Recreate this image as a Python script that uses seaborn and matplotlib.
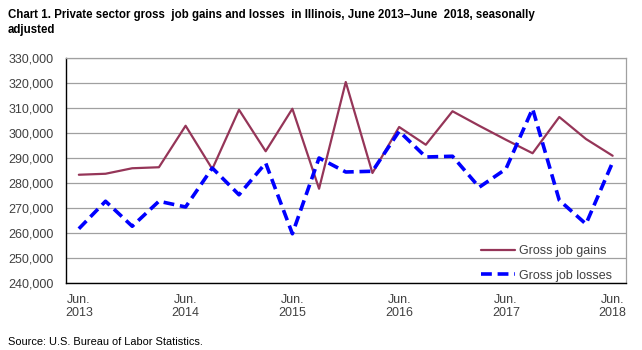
import matplotlib

matplotlib.use("Agg")

import matplotlib.pyplot as plt
import numpy as np
import pandas as pd
import seaborn as sns
from matplotlib.ticker import FuncFormatter, FixedLocator


# quarterly values, June 2013 .. June 2018
quarters = [
    "Jun. 2013", "Sep. 2013", "Dec. 2013", "Mar. 2014",
    "Jun. 2014", "Sep. 2014", "Dec. 2014", "Mar. 2015",
    "Jun. 2015", "Sep. 2015", "Dec. 2015", "Mar. 2016",
    "Jun. 2016", "Sep. 2016", "Dec. 2016", "Mar. 2017",
    "Jun. 2017", "Sep. 2017", "Dec. 2017", "Mar. 2018",
    "Jun. 2018",
]
gains = [
    283300, 283700, 285900, 286300, 302900, 285600, 309300, 292700,
    309700, 277700, 320400, 284000, 302400, 295300, 308700, 302900,
    297300, 291900, 306400, 297600, 290900,
]
losses = [
    261700, 272700, 262700, 272700, 270400, 286000, 275300, 288000,
    259700, 290000, 284400, 284700, 300700, 290400, 290700, 278300,
    285600, 309700, 273100, 263600, 288300,
]
tick_labels = ["Jun.\n2013", "Jun.\n2014", "Jun.\n2015", "Jun.\n2016", "Jun.\n2017", "Jun.\n2018"]

GAIN_COLOR = "#953558"
LOSS_COLOR = "#0000FF"
TEXT_COLOR = "#404040"


def main():
    sns.set_style("white")
    plt.rcParams["font.family"] = ["Liberation Sans", "DejaVu Sans"]

    df = pd.DataFrame({"pos": np.arange(len(quarters)), "quarter": quarters,
                       "gains": gains, "losses": losses})

    fig = plt.figure(figsize=(6.42, 3.5), dpi=100)
    ax = fig.add_axes([65.5 / 642, 1 - 283 / 350, (626 - 65.5) / 642, (283 - 58) / 350])

    sns.lineplot(data=df, x="pos", y="gains", ax=ax, color=GAIN_COLOR, lw=1.6,
                 label="Gross job gains")
    sns.lineplot(data=df, x="pos", y="losses", ax=ax, color=LOSS_COLOR, lw=2.6,
                 dashes=False, label="Gross job losses")
    ax.lines[1].set_dashes([3, 1.6])

    ax.set_xlim(-0.5, len(quarters) - 0.5)
    ax.set_ylim(240000, 330000)
    ax.set_yticks(np.arange(240000, 330001, 10000))
    ax.yaxis.set_major_formatter(FuncFormatter(lambda v, p: f"{int(v):,}"))
    ax.grid(axis="y", color="#A0A0A0", lw=0.9)
    ax.set_axisbelow(True)

    ax.xaxis.set_major_locator(FixedLocator([0, 4, 8, 12, 16, 20]))
    ax.set_xticklabels(tick_labels)
    ax.xaxis.set_minor_locator(FixedLocator(np.arange(-0.5, len(quarters), 1)))
    ax.tick_params(axis="x", which="major", length=0, pad=8, labelsize=9, labelcolor=TEXT_COLOR)
    ax.tick_params(axis="x", which="minor", length=4, width=0.8, color="black", direction="out")
    ax.tick_params(axis="y", length=0, pad=8.6, labelsize=9, labelcolor=TEXT_COLOR)
    for lbl in ax.get_xticklabels():
        lbl.set_linespacing(1.05)

    ax.set_xlabel("")
    ax.set_ylabel("")
    for side in ["left", "bottom"]:
        ax.spines[side].set_color("black")
        ax.spines[side].set_linewidth(1.0)
    for side in ["top", "right"]:
        ax.spines[side].set_color("#A0A0A0")
        ax.spines[side].set_linewidth(0.9)

    leg = ax.legend(loc="lower right", bbox_to_anchor=(0.99, -0.03), frameon=False,
                    fontsize=9, handlelength=2.75, handletextpad=0.35,
                    labelspacing=1.0, borderaxespad=0.25)
    for txt in leg.get_texts():
        txt.set_color(TEXT_COLOR)

    fig.text(8 / 642, 1 - 9 / 350,
             "Chart 1. Private sector gross  job gains and losses  in Illinois, June 2013\u2013June  2018, seasonally\nadjusted",
             ha="left", va="top", fontsize=8.3, fontweight="bold", color="black", linespacing=1.3)
    fig.text(8 / 642, 1 - 342 / 350, "Source: U.S. Bureau of Labor Statistics.",
             ha="left", va="center", fontsize=7.9, color="black")

    fig.savefig("out.png", dpi=100)
    plt.close(fig)


if __name__ == "__main__":
    main()
